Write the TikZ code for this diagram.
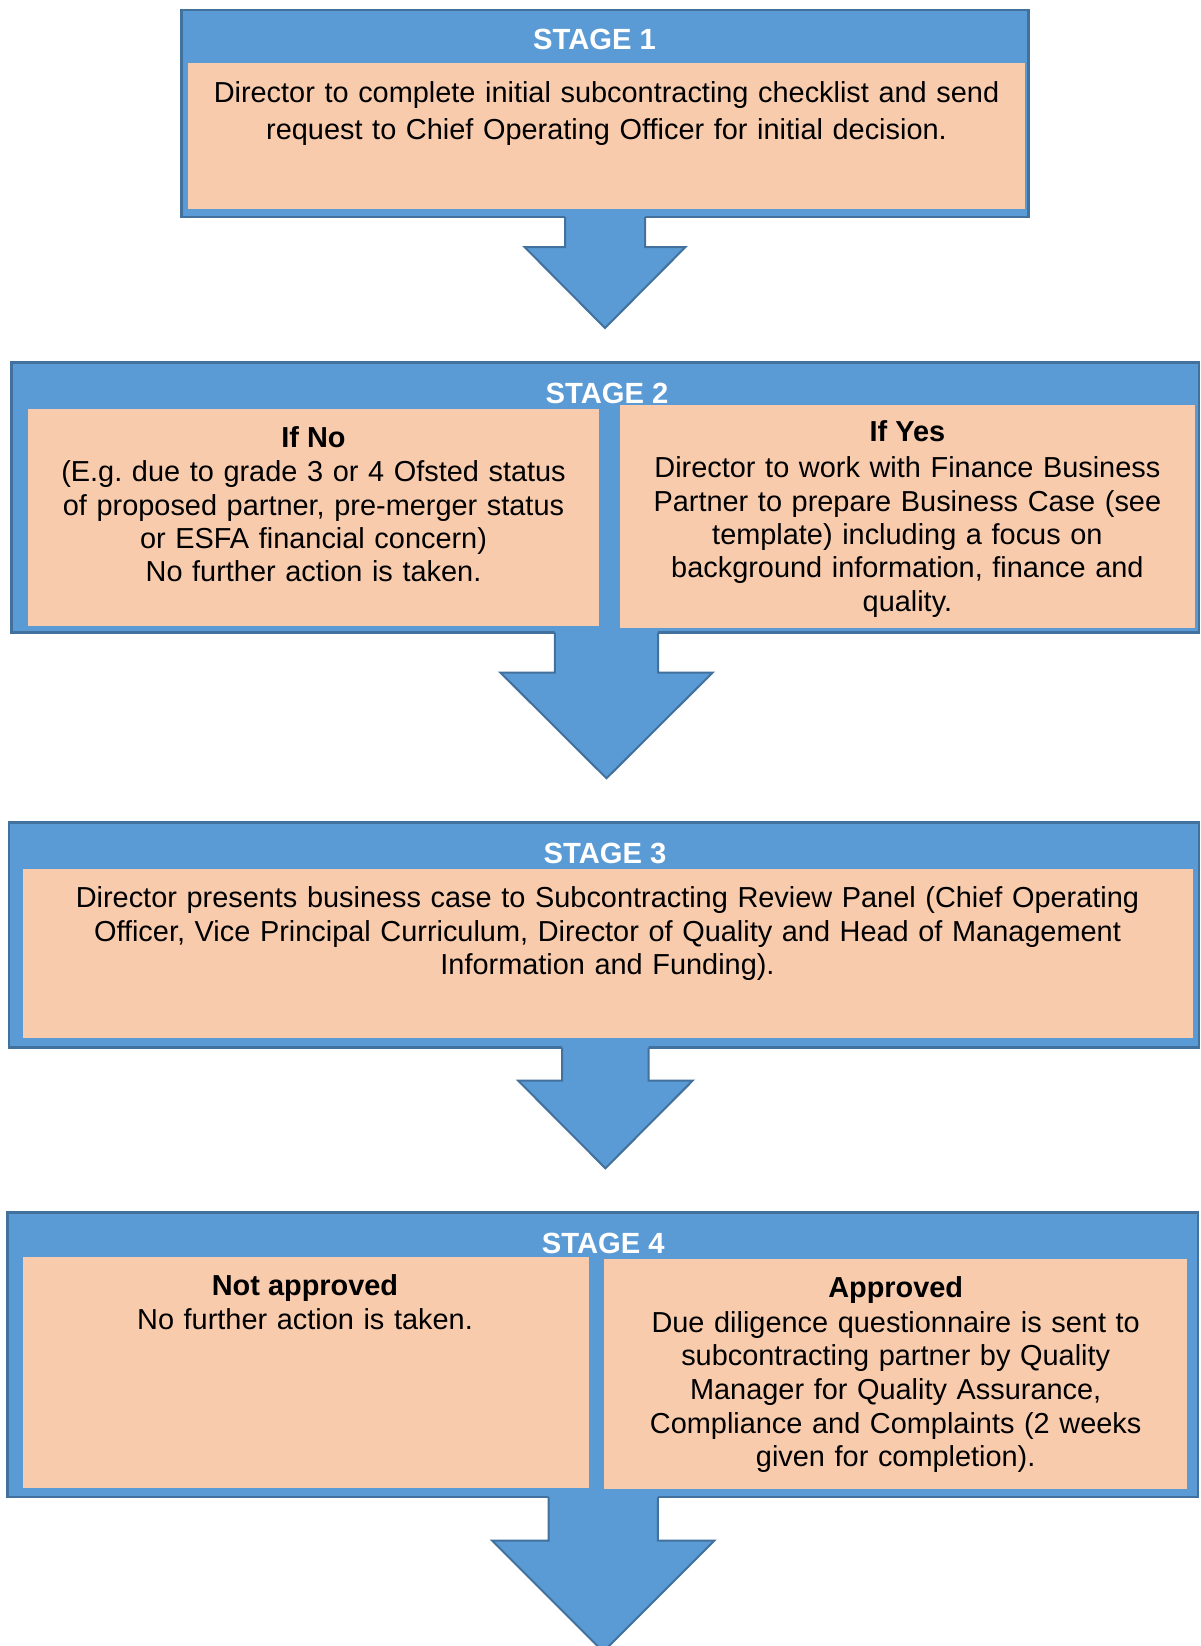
\documentclass[tikz,border=0pt]{standalone}
\usepackage{fontspec}
\setmainfont{Liberation Sans}
\usetikzlibrary{calc}
\definecolor{bluefill}{HTML}{5B9BD5}
\definecolor{blueline}{HTML}{41719C}
\definecolor{peach}{HTML}{F8CBAD}
\newcommand\blockarrowdraw[6]{%
  \fill[bluefill] (#1-#3,#2-3) -- (#1-#3,#4) -- (#1-#5,#4) -- (#1,#6) -- (#1+#5,#4) -- (#1+#3,#4) -- (#1+#3,#2-3) -- cycle;
  \draw[arrowline] (#1-#3,#2) -- (#1-#3,#4) -- (#1-#5,#4) -- (#1,#6) -- (#1+#5,#4) -- (#1+#3,#4) -- (#1+#3,#2);}
\begin{document}
\frenchspacing
\begin{tikzpicture}[x=1pt,y=-1pt,
  stagebox/.style={draw=blueline,fill=bluefill,line width=2.5pt,rectangle,anchor=north west,inner sep=0pt,outer sep=0pt},
  peachbox/.style={fill=peach,rectangle,anchor=north west,inner sep=0pt,outer sep=0pt},
  headtext/.style={text=white,font=\fontsize{29.2}{33.6}\selectfont\bfseries,anchor=base,inner sep=0pt},
  titletext/.style={font=\fontsize{28.9}{33.6}\selectfont\bfseries,anchor=base,inner sep=0pt},
  bodytext/.style={font=\fontsize{28.9}{#1}\selectfont,align=center,anchor=base,inner sep=0pt},
  arrowline/.style={draw=blueline,line width=2pt,line join=miter}
  ]
\useasboundingbox (0,0) rectangle (1200,1646);
\fill[white] (0,0) rectangle (1200,1646);

% ---------- Stage 1
\node[stagebox,minimum width=847.4pt,minimum height=207pt] (st1) at (181.3,10) {};
\node[peachbox,minimum width=837pt,minimum height=145.7pt] (p1) at (188,63.3) {};
\node[headtext] (h1) at (594.5,49.3) {STAGE 1};
\node[bodytext=36.8pt,text width=820pt] (b1) at (606.5,102.5)
  {Director to complete initial subcontracting checklist and send\\request to Chief Operating Officer for initial decision.};
\blockarrowdraw{605}{217}{40}{247}{80.5}{328}

% ---------- Stage 2
\node[stagebox,minimum width=1187.5pt,minimum height=270pt] (st2) at (11.5,362.7) {};
\node[peachbox,minimum width=570.7pt,minimum height=217pt] (p2l) at (28.3,409) {};
\node[peachbox,minimum width=575.3pt,minimum height=222.5pt] (p2r) at (619.7,405) {};
\node[headtext] (h2) at (607,403.3) {STAGE 2};
\node[titletext] (t2l) at (313.5,447.3) {If No};
\node[bodytext=33.4pt,text width=560pt] (b2l) at (313.5,481.7)
  {(E.g. due to grade 3 or 4 Ofsted status\\of proposed partner, pre-merger status\\or ESFA financial concern)\\No further action is taken.};
\node[titletext] (t2r) at (907.4,441.7) {If Yes};
\node[bodytext=33.4pt,text width=565pt] (b2r) at (907.4,477.7)
  {Director to work with Finance Business\\Partner to prepare Business Case (see\\template) including a focus on\\background information, finance and\\quality.};
\blockarrowdraw{606.5}{632.7}{51.7}{672.7}{106}{778.3}

% ---------- Stage 3
\node[stagebox,minimum width=1189.8pt,minimum height=224.8pt] (st3) at (9.2,822.7) {};
\node[peachbox,minimum width=1170pt,minimum height=168.4pt] (p3) at (23,869.3) {};
\node[headtext] (h3) at (605,863.3) {STAGE 3};
\node[bodytext=33.8pt,text width=1160pt] (b3) at (607.5,907.3)
  {Director presents business case to Subcontracting Review Panel (Chief Operating\\Officer, Vice Principal Curriculum, Director of Quality and Head of Management\\Information and Funding).};
\blockarrowdraw{605.4}{1047.5}{43.2}{1080.7}{87.2}{1168.3}

% ---------- Stage 4
\node[stagebox,minimum width=1190.3pt,minimum height=284.7pt] (st4) at (7.7,1212.3) {};
\node[peachbox,minimum width=566pt,minimum height=230.7pt] (p4l) at (23,1257.3) {};
\node[peachbox,minimum width=582.6pt,minimum height=230pt] (p4r) at (604.4,1259.3) {};
\node[headtext] (h4) at (603.3,1253.3) {STAGE 4};
\node[titletext] (t4l) at (305,1295) {Not approved};
\node[bodytext=33.7pt,text width=556pt] (b4l) at (305,1329.5) {No further action is taken.};
\node[titletext] (t4r) at (895.7,1297.5) {Approved};
\node[bodytext=33.7pt,text width=572pt] (b4r) at (895.7,1332)
  {Due diligence questionnaire is sent to\\subcontracting partner by Quality\\Manager for Quality Assurance,\\Compliance and Complaints (2 weeks\\given for completion).};
\blockarrowdraw{603.2}{1497}{54.7}{1540.7}{111}{1651.7}
\end{tikzpicture}
\end{document}
